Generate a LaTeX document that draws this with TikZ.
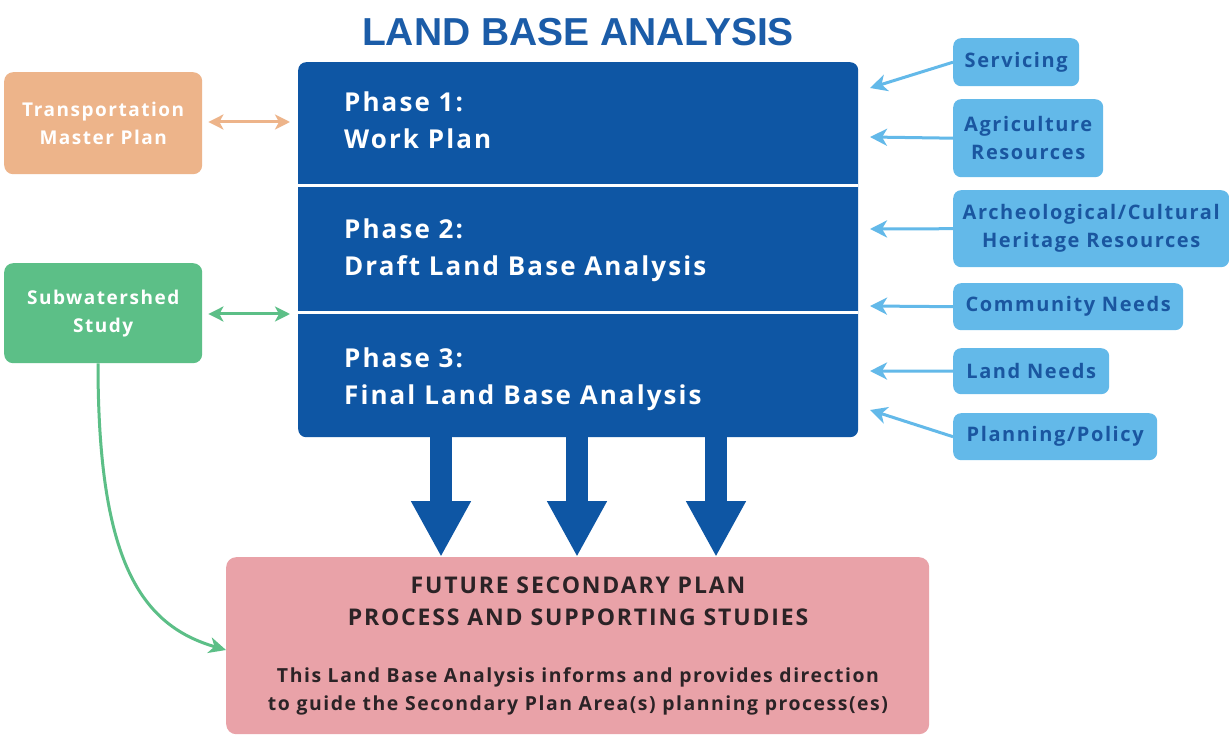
\documentclass[tikz,border=0pt]{standalone}
\usepackage{fontspec}
\setmainfont{Open Sans}[LetterSpace=8]
\newfontfamily\titlefont{Liberation Sans}
\usetikzlibrary{arrows.meta}
\definecolor{dblue}{HTML}{0E56A4}
\definecolor{tblue}{HTML}{1B5CA8}
\definecolor{peach}{HTML}{EDB48A}
\definecolor{sgreen}{HTML}{5CBF87}
\definecolor{lblue}{HTML}{63B9E9}
\definecolor{ltext}{HTML}{1A56A0}
\definecolor{pink}{HTML}{E9A2A8}
\definecolor{ptext}{HTML}{2B2326}
\begin{document}
\begin{tikzpicture}[x=1pt,y=-1pt,
  sidebox/.style={rounded corners=9pt, anchor=north west, inner sep=0pt, align=center, text=white, font=\fontsize{19}{28}\selectfont\bfseries},
  inbox/.style={rounded corners=8pt, fill=lblue, anchor=north west, inner sep=0pt, align=center, text=ltext, font=\fontsize{20}{28}\selectfont\bfseries},
  phasetext/.style={anchor=west, align=left, text=white, inner sep=0pt, font=\fontsize{26}{37}\selectfont\bfseries},
  inarrow/.style={draw=lblue, line width=3pt, -{Stealth[length=17pt,width=17pt,inset=5pt]}},
  dblarrow/.style={line width=3pt, {Stealth[length=15pt,width=15pt,inset=4pt]}-{Stealth[length=15pt,width=15pt,inset=4pt]}},
  bigarrow/.style={draw=dblue, line width=22pt, -{Triangle[length=56pt,width=56pt]}}
]
\useasboundingbox (0,0) rectangle (1229,735);
\fill[white] (0,0) rectangle (1229,735);

% title
\node[text=tblue, font=\titlefont\fontsize{39}{39}\selectfont\bfseries, inner sep=0pt] (title) at (578,32) {LAND BASE ANALYSIS};

% main phase box
\node[fill=dblue, rounded corners=8pt, anchor=north west, minimum width=560pt, minimum height=375pt, inner sep=0pt] (main) at (298,62) {};
\coordinate (d1l) at (298,186); \coordinate (d1r) at (858,186);
\coordinate (d2l) at (298,313); \coordinate (d2r) at (858,313);
\draw[white, line width=3pt] (d1l) -- (d1r);
\draw[white, line width=3pt] (d2l) -- (d2r);
\node[phasetext] (p1) at (344,120) {Phase 1:\\Work Plan};
\node[phasetext] (p2) at (344,250) {Phase 2:\\Draft Land Base Analysis};
\node[phasetext] (p3) at (344,379) {Phase 3:\\Final Land Base Analysis};

% left boxes
\node[sidebox, fill=peach, minimum width=198pt, minimum height=102pt] (tmp) at (4,72) {Transportation\\Master Plan};
\node[sidebox, fill=sgreen, minimum width=198pt, minimum height=100pt] (sws) at (4,263) {Subwatershed\\Study};
\coordinate (tmpA) at (290,122);
\coordinate (swsA) at (290,314);
\draw[dblarrow, draw=peach] ([xshift=6pt]tmp.east |- tmpA) -- (tmpA);
\draw[dblarrow, draw=sgreen] ([xshift=6pt]sws.east |- swsA) -- (swsA);

% right boxes
\node[inbox, minimum width=126pt, minimum height=48pt] (serv) at (953,38) {Servicing};
\node[inbox, minimum width=150pt, minimum height=78pt] (agri) at (953,99) {Agriculture\\Resources};
\node[inbox, minimum width=276pt, minimum height=77pt] (arch) at (953,190) {Archeological/Cultural\\Heritage Resources};
\node[inbox, minimum width=230pt, minimum height=47pt] (comm) at (953,283) {Community Needs};
\node[inbox, minimum width=156pt, minimum height=46pt] (land) at (953,348) {Land Needs};
\node[inbox, minimum width=204pt, minimum height=47pt] (plan) at (953,413) {Planning/Policy};

\coordinate (aServ) at (870,88);
\coordinate (aAgri) at (870,137);
\coordinate (aArch) at (870,229);
\coordinate (aComm) at (870,306);
\coordinate (aLand) at (870,371);
\coordinate (aPlan) at (870,410);
\draw[inarrow] (serv.west) -- (aServ);
\draw[inarrow] (agri.west) -- (aAgri);
\draw[inarrow] (arch.west) -- (aArch);
\draw[inarrow] (comm.west) -- (aComm);
\draw[inarrow] (land.west) -- (aLand);
\draw[inarrow] (plan.west) -- (aPlan);

% bottom box
\node[fill=pink, rounded corners=10pt, anchor=north west, minimum width=703pt, minimum height=177pt, inner sep=0pt] (future) at (226,557) {};
\node[text=ptext, align=center, inner sep=0pt, font=\fontsize{23}{32}\selectfont\bfseries] (ft) at (578,601) {FUTURE SECONDARY PLAN\\PROCESS AND SUPPORTING STUDIES};
\node[text=ptext, align=center, inner sep=0pt, font=\fontsize{19.4}{28}\selectfont\bfseries] (fd) at (578,691) {This Land Base Analysis informs and provides direction\\to guide the Secondary Plan Area(s) planning process(es)};

% big arrows
\draw[bigarrow] (main.south -| 441,0) -- (future.north -| 441,0);
\draw[bigarrow] (main.south -| 577,0) -- (future.north -| 577,0);
\draw[bigarrow] (main.south -| 716,0) -- (future.north -| 716,0);

% green curve
\coordinate (gEnd) at (226,650);
\draw[draw=sgreen, line width=3pt, -{Stealth[length=17pt,width=16pt,inset=5pt]}] (sws.south -| 98,0) .. controls (98,560) and (140,625) .. (gEnd);
\end{tikzpicture}
\end{document}
